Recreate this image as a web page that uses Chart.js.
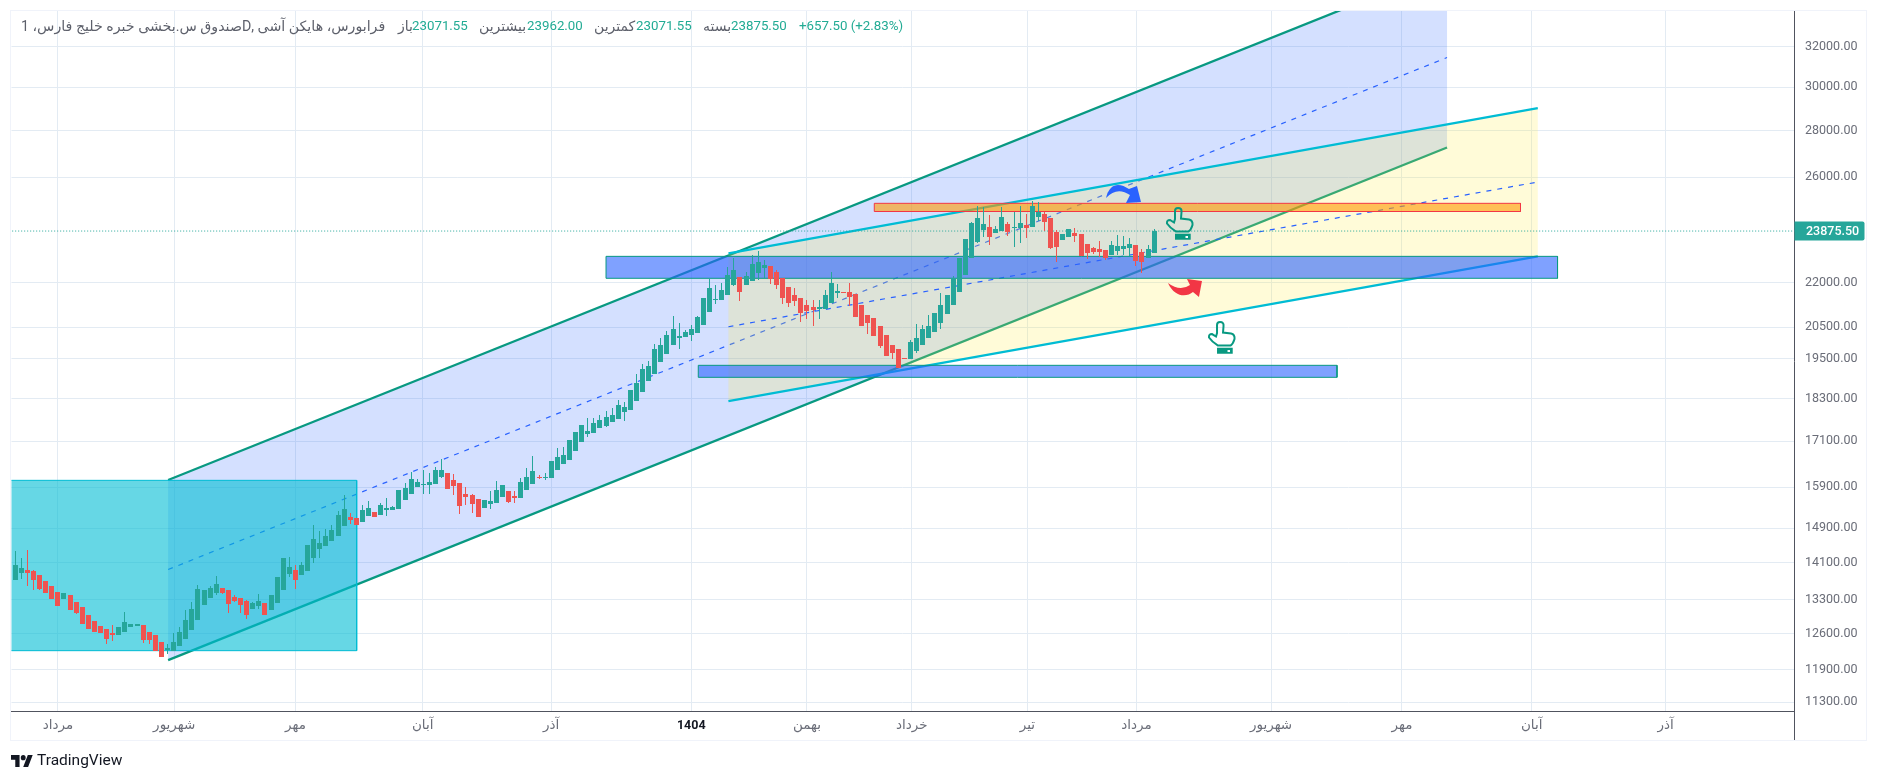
<!DOCTYPE html>
<html lang="fa">
<head>
<meta charset="utf-8">
<title>صندوق س.بخشی خبره خلیج فارس</title>
<script src="https://cdn.jsdelivr.net/npm/chart.js@4"></script>
<style>
    html, body { margin: 0; padding: 0; background: #fff; overflow: hidden; }
    #page { position: relative; width: 1879px; height: 781px; font-family: Roboto, "DejaVu Sans", sans-serif; }
    #frame { position: absolute; left: 10px; top: 10px; width: 1855px; height: 729px; border: 1.5px solid #f0f3fa; }
    #divider { position: absolute; left: 1794px; top: 711px; width: 1px; height: 29px; background: #50535e; }
    canvas { position: absolute; left: 0; top: 0; }
    .legend { position: absolute; top: 18px; font-size: 14px; line-height: 16px; white-space: nowrap; color: #5d606b; }
    .value { color: #22ab94; font-size: 13.3px; }
    #logo { position: absolute; left: 11px; top: 755px; }
    #brand { position: absolute; left: 37px; top: 751px; font-size: 15.5px; line-height: 18px; color: #131722; }
</style>
</head>
<body>
<div id="page">
    <div id="frame"></div>
    <canvas id="chart" width="1879" height="781"></canvas>
    <div id="divider"></div>
    <div class="legend" style="left:21px;direction:rtl;font-size:14.2px">فرابورس، هایکن آشی ,Dصندوق س.بخشی خبره خلیج فارس، 1</div>
    <div class="legend" style="left:398px">باز</div>
    <div class="legend value" style="left:412px">23071.55</div>
    <div class="legend" style="left:479px">بیشترین</div>
    <div class="legend value" style="left:527px">23962.00</div>
    <div class="legend" style="left:594px">کمترین</div>
    <div class="legend value" style="left:636px">23071.55</div>
    <div class="legend" style="left:703px">بسته</div>
    <div class="legend value" style="left:731px">23875.50</div>
    <div class="legend value" style="left:799px">+657.50 (+2.83%)</div>
    <svg id="logo" width="22" height="12" viewBox="0 4 36 18" preserveAspectRatio="none">
        <path fill="#131722" d="M14 22H7V11H0V4h14v18zM28 22h-8l7.5-18h8L28 22z"/>
        <circle fill="#131722" cx="20" cy="8" r="4"/>
    </svg>
    <div id="brand">TradingView</div>
</div>
<script>
const opens = [
    13720,13874,13940,13918,13830,13698,13590,13461,13312,13397,
    13249,13145,12979,12856,12754,12693,12613,12573,12633,12734,
    12754,12775,12633,12573,12434,12277,12264,12355,12493,12673,
    12876,13187,13333,13440,13547,13504,13355,13333,13270,13103,
    13166,13228,13082,13228,13504,13852,13940,13830,13918,14208,
    14413,14482,14597,14714,14949,15165,15140,15044,15189,15285,
    15213,15333,15333,15358,15578,15728,15904,15954,15954,15980,
    16158,16261,16081,16005,15728,15703,15603,15381,15478,15503,
    15653,15803,15678,15628,15828,15980,16158,16132,16132,16338,
    16493,16599,16838,17081,17299,17327,17464,17520,17631,17715,
    17916,17973,18232,18495,18819,19028,19395,19644,19926,20148,
    20180,20244,20309,20568,20996,21400,21400,21570,21915,22195,
    21915,22055,22336,22515,22586,22372,22160,21846,21570,21468,
    21231,21165,21096,21096,21298,21639,21673,21673,21604,21231,
    20897,20797,20535,20244,19926,19800,19519,19488,19737,19926,
    20148,20340,20633,20930,21231,21673,22266,22876,23463,23915,
    24029,23800,23877,24144,23991,23991,24105,24029,24414,24528,
    24372,23838,23538,23651,23800,23762,23390,23242,23205,23168,
    22985,23131,23205,23242,23352,23095,22876,23071.55
];
const highs = [
    14367,14208,14390,13940,13830,13698,13590,13461,13440,13397,
    13249,13145,12979,12856,12754,12693,12775,12734,13041,12795,
    12795,12775,12633,12573,12434,12395,12613,12734,13082,13249,
    13612,13504,13590,13808,13547,13504,13397,13333,13291,13249,
    13419,13228,13397,13786,14208,14231,14052,14118,14505,14973,
    14831,14878,14973,15309,15706,15261,15140,15456,15554,15285,
    15504,15631,15431,15828,16005,16286,16107,16338,16261,16417,
    16626,16261,16235,16005,15904,15728,15603,15578,15803,16056,
    15954,15803,15803,16132,16390,16705,16200,16261,16572,16919,
    16946,17135,17354,17547,17743,17743,17828,17941,18027,18258,
    18203,18553,19020,19320,19426,19957,20148,20372,20864,20633,
    20405,20568,20864,21468,22125,21915,21985,22550,22875,22195,
    22372,22984,23130,22802,22586,22443,22160,21846,21811,21468,
    21400,21400,21400,21742,22372,21950,21673,21985,21604,21231,
    20897,20797,20535,20244,19926,19800,19519,20084,20600,20568,
    20897,20964,21639,21570,22230,22875,23576,24233,24844,24804,
    24490,24067,24804,24220,24606,24844,24528,25040,25000,24606,
    24372,23915,23762,23953,23991,23762,23390,23279,23500,23168,
    23500,23726,23690,23614,23352,23205,23352,23962
];
const lows = [
    13720,13742,13590,13504,13504,13440,13312,13166,13312,13082,
    13000,12795,12693,12633,12613,12395,12453,12573,12633,12734,
    12754,12414,12395,12258,12141,12199,12264,12355,12493,12673,
    12876,13187,13333,13397,13419,13020,13249,13020,12897,13103,
    13103,12979,13082,13228,13504,13786,13526,13830,13918,14096,
    14208,14482,14597,14714,14949,14997,14973,15044,15189,15165,
    15213,15189,15333,15358,15578,15728,15904,15728,15728,15980,
    16132,15853,15703,15237,15453,15261,15164,15381,15357,15503,
    15653,15503,15503,15628,15828,15980,16098,16081,16132,16338,
    16493,16599,16838,17081,17217,17327,17464,17492,17631,17715,
    17662,17973,18232,18495,18819,19028,19395,19644,19926,19800,
    20180,20052,20309,20568,20996,21264,21400,21570,21880,21366,
    21915,22055,22090,22125,21950,21777,21264,21165,21198,20666,
    20764,20535,20764,21096,21298,21468,21639,21198,20830,20535,
    20277,20212,19831,19581,19488,19211,19488,19488,19675,19926,
    20148,20340,20438,20930,21231,21673,22266,22876,23426,23663,
    23352,23800,23877,23690,23279,23426,23614,24029,24258,23877,
    23205,22730,23538,23651,23463,22949,22840,23021,22912,22803,
    22985,22985,22985,22949,22586,22336,22876,23071.55
];
const closes = [
    14052,13985,13874,13720,13526,13440,13312,13166,13440,13082,
    13013,12795,12693,12633,12613,12493,12573,12734,12835,12795,
    12795,12473,12473,12258,12141,12316,12434,12633,12876,13103,
    13526,13504,13547,13633,13440,13208,13270,13187,12979,13228,
    13270,12979,13397,13786,14208,14007,13720,14052,14505,14644,
    14551,14714,14854,15213,15358,15092,14973,15333,15382,15165,
    15456,15382,15407,15828,15879,16107,16030,15980,16030,16338,
    16338,15853,15929,15428,15653,15478,15164,15578,15553,15828,
    15954,15528,15628,16030,16158,16312,16132,16158,16572,16680,
    16733,17135,17354,17547,17382,17603,17687,17772,17828,18113,
    18059,18553,18750,19180,19272,19800,19926,20244,20438,20212,
    20340,20438,20830,21468,21811,21434,21742,22265,22443,21673,
    22230,22658,22730,22622,22125,21915,21468,21298,21366,20964,
    21030,21063,21165,21570,21985,21707,21639,21502,20830,20535,
    20633,20212,19894,19581,19675,19211,19488,20020,20148,20438,
    20535,20964,21231,21570,22160,22875,23576,24168,24372,24144,
    23651,23953,24414,23838,24029,24182,23991,24844,24606,24220,
    23242,23279,23762,23953,23690,22949,23057,23095,23095,22876,
    23352,23316,23316,23390,22767,22730,23205,23875.5
];

const priceTicks = [11300, 11900, 12600, 13300, 14100, 14900, 15900, 17100, 18300, 19500, 20500, 22000, 26000, 28000, 30000, 32000];
const monthLabels = ['مرداد', 'شهریور', 'مهر', 'آبان', 'آذر', '1404', 'بهمن', 'خرداد', 'تیر', 'مرداد', 'شهریور', 'مهر', 'آبان', 'آذر'];
const monthBars = [7, 26.1, 46, 66.9, 88, 111, 130, 147.2, 166.2, 184.1, 206.2, 227.7, 249, 271];
const lastPrice = 23875.5;

// bar numbers run from 0; drawings may start or end between bars
const blueChannelBars = [25.1, 235.1];
const blueChannelUpper = [16081, 36280];
const blueChannelMiddle = [13951, 31445];
const blueChannelLower = [12083, 27263];

const yellowChannelBars = [117.1, 250];
const yellowChannelUpper = [23045, 29023];
const yellowChannelMiddle = [20511, 25807];
const yellowChannelLower = [18229, 22932];

const tealBoxBars = [-5, 56.06];
const tealBoxPrices = [12265, 16073];
const orangeZoneBars = [141.05, 247.16];
const orangeZonePrices = [24627, 24949];
const upperBlueZoneBars = [97, 253.24];
const upperBlueZonePrices = [22150, 22935];
const lowerBlueZoneBars = [112.15, 217.03];
const lowerBlueZonePrices = [18928, 19292];

const blueArrowAt = [178.93, 25766];
const redArrowAt = [189.11, 22124];
const upperHandAt = [188.95, 24764];
const lowerHandAt = [195.85, 20664];

const upColor = '#26a69a';
const downColor = '#ef5350';
const gridColor = '#e3ebf3';
const axisColor = '#50535e';
const tickColor = '#6a6d78';
const channelColor = '#089981';
const cyanColor = '#00bcd4';

const barColors = closes.map((c, i) => (c >= opens[i] ? upColor : downColor));

function pairPoints(bars, prices) {
    return bars.map((b, i) => ({ x: b, y: prices[i] }));
}

function lineSet(bars, prices, color, order, dash) {
    return {
        type: 'line',
        data: pairPoints(bars, prices),
        borderColor: color,
        borderWidth: dash ? 1.2 : 2.3,
        borderDash: dash || [],
        pointRadius: 0,
        tension: 0,
        fill: false,
        order: order
    };
}

// first point leftmost and last point rightmost, the filler clips to those two
function shapeSet(points, color, order) {
    return {
        type: 'line',
        data: points,
        borderWidth: 0,
        backgroundColor: color,
        pointRadius: 0,
        tension: 0,
        fill: 'shape',
        order: order
    };
}

function boxFill(bars, prices, color, order) {
    return shapeSet([
        { x: bars[0], y: prices[0] }, { x: bars[0], y: prices[1] },
        { x: bars[1], y: prices[1] }, { x: bars[1], y: prices[0] }
    ], color, order);
}

function boxOutline(bars, prices, color, width, order) {
    const outline = lineSet(
        [bars[0], bars[0], bars[1], bars[1], bars[0]],
        [prices[0], prices[1], prices[1], prices[0], prices[0]],
        color, order
    );
    outline.borderWidth = width;
    return outline;
}

function channelFill(bars, upper, lower, color, order) {
    return shapeSet([
        { x: bars[0], y: lower[0] }, { x: bars[0], y: upper[0] },
        { x: bars[1], y: upper[1] }, { x: bars[1], y: lower[1] }
    ], color, order);
}

// tick labels must not push the plot area inwards
function dropLabelPadding(scale) {
    scale.paddingTop = 0;
    scale.paddingBottom = 0;
    scale.paddingLeft = 0;
    scale.paddingRight = 0;
}

const candleBars = {
    id: 'candleBars',
    afterDatasetsUpdate(chart) {
        // snap candles to whole pixels like the original chart
        chart.data.datasets.forEach((ds, i) => {
            if (ds.type !== 'bar') return;
            chart.getDatasetMeta(i).data.forEach(el => {
                el.x = Math.floor(el.x) + 0.5;
                el.y = Math.round(el.y);
                el.base = Math.round(el.base);
                if (el.base === el.y) el.base = el.y + 1;
            });
        });
    }
};

const handPath = new Path2D('M9 11 L9 3 Q9 0 12 0 Q16 0 15.5 4 L15 10.5 L23 11.5 Q27 12.5 26.5 17 Q25 22 22.5 23.5 L10 23.5 Q4 20 1 15.5 Q0.5 12 4 12 L8 14.5 Z');
const blueArrowPath = new Path2D('M1 15 C5 -1 15 0 24 6 L32 3 L36 19 L21 20 L25 12 Q12 3 1 15 Z');
const redArrowPath = new Path2D('M1 4 C8 19 20 18 26 13 L32 18 L35 2 L20 0 L23 6 Q13 13 1 4 Z');

const drawingIcons = {
    id: 'drawingIcons',
    afterDatasetsDraw(chart) {
        const { ctx, scales: { x, y } } = chart;
        const place = (at, draw) => {
            ctx.save();
            ctx.translate(x.getPixelForValue(at[0]), y.getPixelForValue(at[1]));
            draw();
            ctx.restore();
        };
        const hand = () => {
            ctx.strokeStyle = channelColor;
            ctx.lineWidth = 2;
            ctx.stroke(handPath);
            ctx.fillStyle = channelColor;
            ctx.fillRect(9, 25.7, 15.7, 6);
            ctx.fillStyle = '#fff';
            ctx.fillRect(19.5, 28, 2.5, 2);
        };
        place(blueArrowAt, () => { ctx.fillStyle = '#2962ff'; ctx.fill(blueArrowPath); });
        place(redArrowAt, () => { ctx.fillStyle = '#f23645'; ctx.fill(redArrowPath); });
        place(upperHandAt, hand);
        place(lowerHandAt, hand);
    }
};

const lastPriceLabel = {
    id: 'lastPriceLabel',
    afterDraw(chart) {
        const { ctx, chartArea, scales: { y } } = chart;
        const py = Math.round(y.getPixelForValue(lastPrice));
        ctx.save();
        ctx.fillStyle = upColor;
        ctx.beginPath();
        ctx.roundRect(chartArea.right, py - 9.5, 70, 19, [0, 2, 2, 0]);
        ctx.fill();
        ctx.fillStyle = '#fff';
        ctx.font = '500 12.5px Roboto';
        ctx.textBaseline = 'middle';
        ctx.fillText(lastPrice.toFixed(2), chartArea.right + 11.5, py + 0.5);
        ctx.restore();
    }
};

document.addEventListener('DOMContentLoaded', function () {
    new Chart(document.getElementById('chart'), {
        type: 'bar',
        data: {
            datasets: [
                channelFill(blueChannelBars, blueChannelUpper, blueChannelLower, 'rgba(41, 98, 255, 0.2)', 30),
                lineSet(blueChannelBars, blueChannelUpper, channelColor, 29),
                lineSet(blueChannelBars, blueChannelLower, channelColor, 28),
                lineSet(blueChannelBars, blueChannelMiddle, '#2962ff', 27, [5, 6]),
                channelFill(yellowChannelBars, yellowChannelUpper, yellowChannelLower, 'rgba(255, 235, 59, 0.2)', 26),
                lineSet(yellowChannelBars, yellowChannelUpper, cyanColor, 25),
                lineSet(yellowChannelBars, yellowChannelLower, cyanColor, 24),
                lineSet(yellowChannelBars, yellowChannelMiddle, '#2962ff', 23, [5, 6]),
                boxFill(tealBoxBars, tealBoxPrices, 'rgba(0, 188, 212, 0.6)', 22),
                boxOutline(tealBoxBars, tealBoxPrices, cyanColor, 1, 21),
                boxFill(orangeZoneBars, orangeZonePrices, 'rgba(255, 152, 0, 0.6)', 20),
                boxOutline(orangeZoneBars, orangeZonePrices, '#f23645', 1, 19),
                boxFill(upperBlueZoneBars, upperBlueZonePrices, 'rgba(41, 98, 255, 0.6)', 18),
                boxOutline(upperBlueZoneBars, upperBlueZonePrices, channelColor, 1, 17),
                boxFill(lowerBlueZoneBars, lowerBlueZonePrices, 'rgba(41, 98, 255, 0.6)', 16),
                boxOutline(lowerBlueZoneBars, lowerBlueZonePrices, channelColor, 1, 15),
                Object.assign(lineSet([-1, 293], [lastPrice, lastPrice], upColor, 14, [1, 2]), { borderWidth: 1 }),
                {
                    type: 'bar',
                    data: lows.map((low, i) => ({ x: i, y: [low, highs[i]] })),
                    backgroundColor: barColors,
                    barThickness: 1,
                    grouped: false,
                    inflateAmount: 0,
                    order: 2
                },
                {
                    type: 'bar',
                    data: opens.map((open, i) => ({ x: i, y: [open, closes[i]] })),
                    backgroundColor: barColors,
                    barThickness: 5,
                    grouped: false,
                    inflateAmount: 0,
                    order: 1
                }
            ]
        },
        options: {
            responsive: false,
            animation: false,
            events: [],
            layout: { padding: { left: 11.5, top: 11, right: 11, bottom: 39 } },
            plugins: {
                legend: { display: false },
                tooltip: { enabled: false }
            },
            scales: {
                x: {
                    type: 'linear',
                    offset: false,
                    min: -0.62,
                    max: 292.15,
                    afterBuildTicks(scale) {
                        scale.ticks = monthBars.map(v => ({ value: v }));
                    },
                    afterFit(scale) {
                        scale.height = 31;
                        dropLabelPadding(scale);
                    },
                    grid: { color: gridColor, offset: false, drawTicks: false },
                    border: { color: axisColor },
                    ticks: {
                        autoSkip: false,
                        maxRotation: 0,
                        minRotation: 0,
                        padding: 7,
                        color: ctx => (monthLabels[ctx.index] === '1404' ? '#131722' : tickColor),
                        font: ctx => (monthLabels[ctx.index] === '1404'
                            ? { family: 'Roboto, "DejaVu Sans"', size: 12.5, weight: 'bold' }
                            : { family: 'Roboto, "DejaVu Sans"', size: 13.5 }),
                        callback: (value, index) => monthLabels[index]
                    }
                },
                y: {
                    type: 'logarithmic',
                    position: 'right',
                    min: 11145,
                    max: 33856,
                    afterBuildTicks(scale) {
                        scale.ticks = priceTicks.map(v => ({ value: v }));
                    },
                    afterFit(scale) {
                        scale.width = 73.5;
                        dropLabelPadding(scale);
                    },
                    grid: { color: gridColor, drawTicks: false },
                    border: { color: axisColor },
                    ticks: {
                        autoSkip: false,
                        padding: 10.5,
                        color: tickColor,
                        font: { family: 'Roboto', size: 12.5 },
                        callback: value => Number(value).toFixed(2)
                    }
                }
            }
        },
        plugins: [candleBars, drawingIcons, lastPriceLabel]
    });
});
</script>
</body>
</html>
